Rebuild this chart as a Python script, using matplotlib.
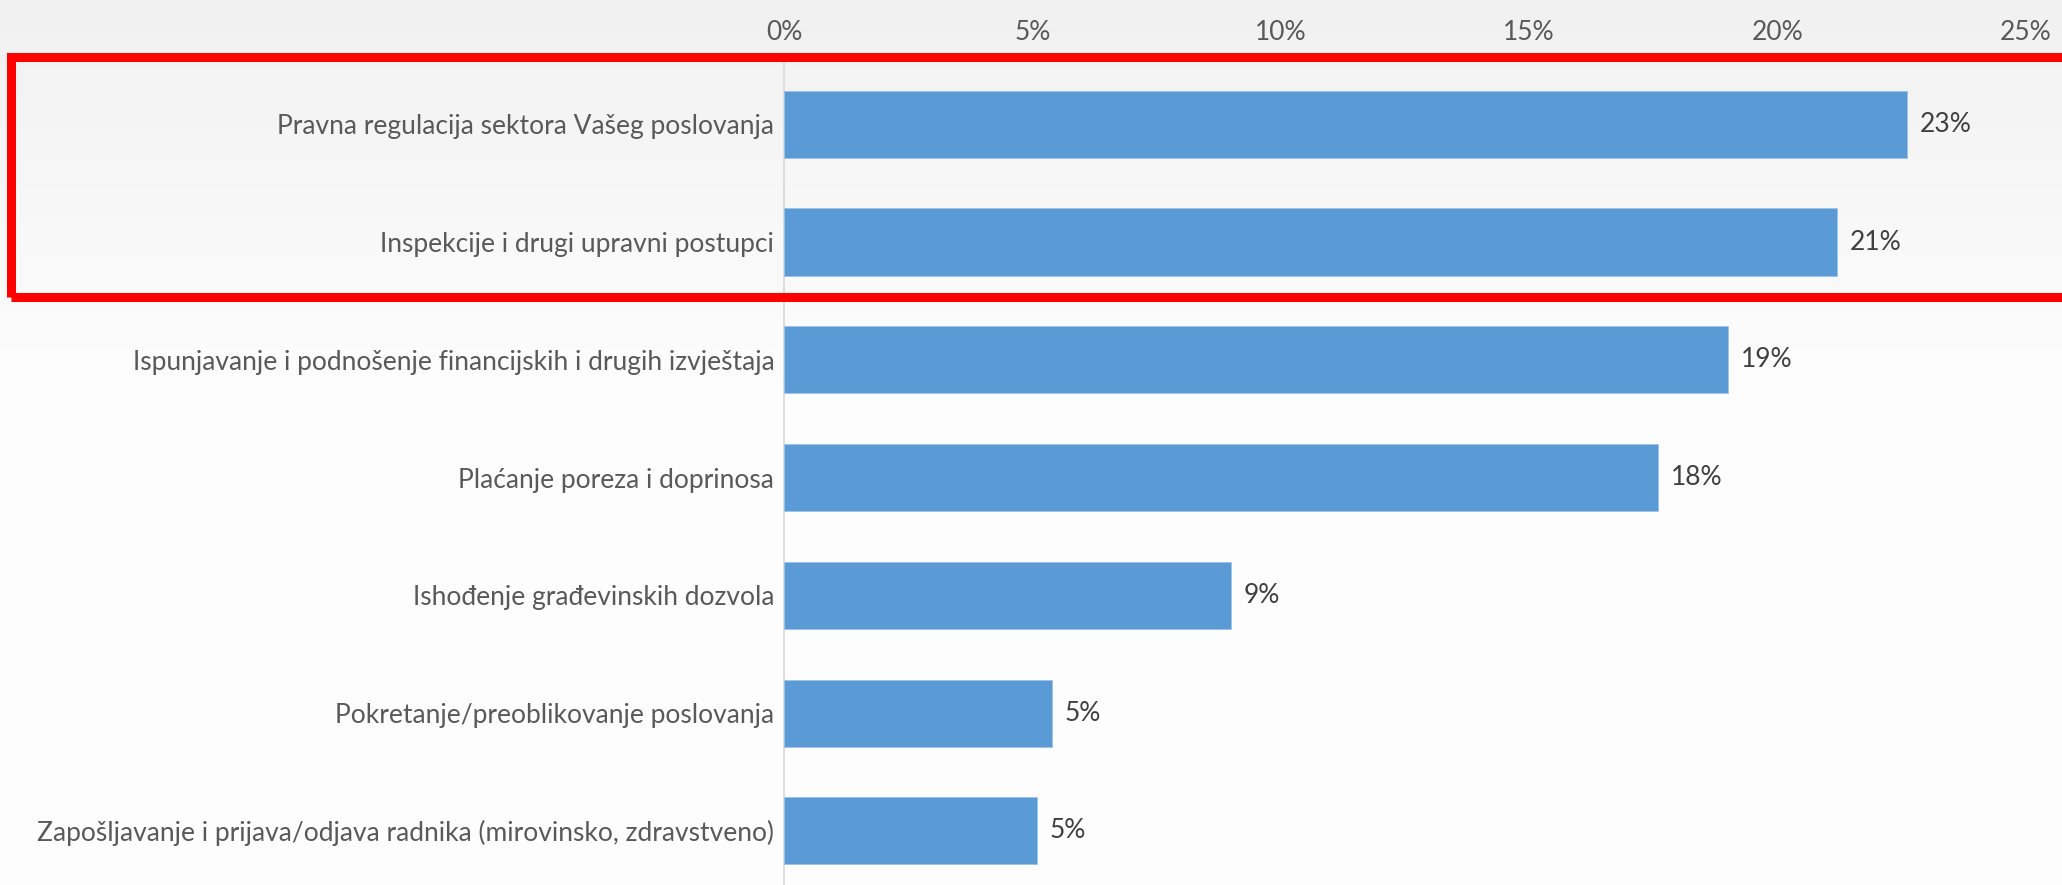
import numpy as np
import matplotlib
matplotlib.use("Agg")
import matplotlib.pyplot as plt
import matplotlib.patches as mpatches
from matplotlib.ticker import FuncFormatter

plt.rcParams["font.family"] = ["Lato", "DejaVu Sans"]

categories = [
    "Pravna regulacija sektora Vašeg poslovanja",
    "Inspekcije i drugi upravni postupci",
    "Ispunjavanje i podnošenje financijskih i drugih izvještaja",
    "Plaćanje poreza i doprinosa",
    "Ishođenje građevinskih dozvola",
    "Pokretanje/preoblikovanje poslovanja",
    "Zapošljavanje i prijava/odjava radnika (mirovinsko, zdravstveno)",
]
values = [22.6, 21.2, 19.0, 17.6, 9.0, 5.4, 5.1]
value_labels = ["23%", "21%", "19%", "18%", "9%", "5%", "5%"]
x_ticks = [0, 5, 10, 15, 20, 25]

W, H = 2062, 885
fig = plt.figure(figsize=(W / 100, H / 100), dpi=100)

# background gradient (light grey on top -> almost white at bottom)
bg = fig.add_axes([0, 0, 1, 1], zorder=-10)
grad = np.linspace(0, 1, 256).reshape(-1, 1)
top_c = np.array([0.945, 0.945, 0.945])
bot_c = np.array([0.995, 0.995, 0.995])
img = top_c + (bot_c - top_c) * np.clip(grad * 2.2, 0, 1)[..., None] * np.ones(3)
bg.imshow(img.reshape(256, 1, 3), aspect="auto", extent=[0, 1, 0, 1])
bg.set_axis_off()

ax = fig.add_axes([784 / W, 0, (2026 - 784) / W, 1 - 63 / H])
ax.patch.set_alpha(0)

y = np.arange(len(categories))
ax.barh(y, values, height=0.57, color="#5B9BD5", edgecolor="#9DC3E6", linewidth=0.6, zorder=3)

for yi, v, lab in zip(y, values, value_labels):
    ax.annotate(lab, xy=(v, yi), xytext=(9, 0), textcoords="offset points",
                va="center", ha="left", fontsize=19, color="#404040")

ax.set_xlim(0, 25)
ax.set_ylim(6.46, -0.52)
ax.set_yticks(y)
ax.set_yticklabels(categories, fontsize=19, color="#595959")
ax.set_xticks(x_ticks)
ax.xaxis.set_major_formatter(FuncFormatter(lambda v, p: f"{v:.0f}%"))
ax.xaxis.tick_top()
ax.tick_params(axis="x", length=0, labelsize=19, labelcolor="#595959", pad=13)
ax.tick_params(axis="y", length=0, pad=7)
for s in ["top", "right", "bottom"]:
    ax.spines[s].set_visible(False)
ax.spines["left"].set_color("#D9D9D9")
ax.spines["left"].set_linewidth(1.2)

# red highlight frame around the top two categories
frame = mpatches.Rectangle((11 / W, 1 - 297 / H), 1.0, (297 - 57) / H,
                           transform=fig.transFigure, fill=False,
                           edgecolor="#FF0000", linewidth=6.5, zorder=20)
fig.patches.append(frame)

fig.savefig("out.png", dpi=100)
